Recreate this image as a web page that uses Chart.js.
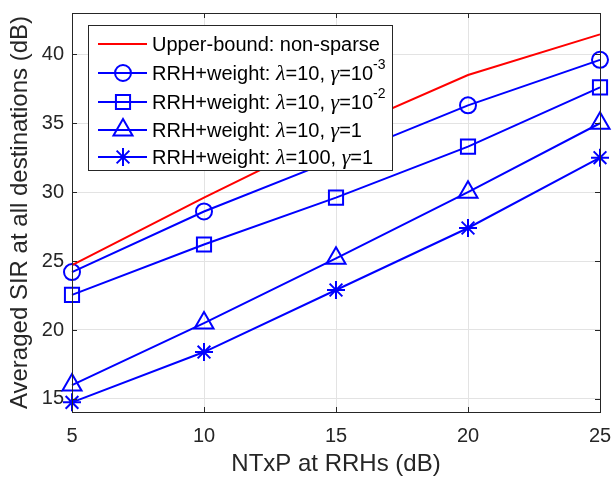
<!DOCTYPE html>
<html>
<head>
<meta charset="utf-8">
<script src="https://cdn.jsdelivr.net/npm/chart.js@4.4.1/dist/chart.umd.min.js"></script>
<style>
  html, body { margin: 0; padding: 0; background: #fff; }
  canvas { display: block; }
</style>
</head>
<body>
<canvas id="sir-chart" width="613" height="485"></canvas>
<script>
// Values
const ntxp = [5, 10, 15, 20, 25];
const upperBound = [24.7, 29.6, 34.3, 38.5, 41.45];
const lam10g1e3 = [24.2, 28.6, 32.4, 36.3, 39.6];
const lam10g1e2 = [22.55, 26.2, 29.6, 33.3, 37.6];
const lam10g1 = [16.0, 20.5, 25.2, 30.0, 35.0];
const lam100g1 = [14.75, 18.4, 22.9, 27.4, 32.5];

const xTicks = [5, 10, 15, 20, 25];
const yTicks = [15, 20, 25, 30, 35, 40];

const SANS = '"Liberation Sans", Arial, sans-serif';
const SERIF = '"Liberation Serif", "Times New Roman", serif';
const INK = '#262626';
const BLUE = '#0000ff';
const RED = '#ff0000';

function toPoints(ys) {
    return ntxp.map((x, i) => ({ x: x, y: ys[i] }));
}

function series(label, ys, color, style, radius, legendText) {
    return {
        label: label,
        data: toPoints(ys),
        borderColor: color,
        backgroundColor: 'rgba(0,0,0,0)',
        borderWidth: 2,
        pointStyle: style,
        pointRadius: style ? radius : 0,
        pointBorderWidth: 2,
        pointBorderColor: color,
        pointBackgroundColor: 'rgba(0,0,0,0)',
        tension: 0,
        clip: false,
        legendText: legendText
    };
}

// legend text pieces: plain, italic greek, superscript
const sup = (t) => ({ t: t, sup: true });
const greek = (t) => ({ t: t, greek: true });
const plain = (t) => ({ t: t });

const datasets = [
    series('Upper-bound: non-sparse', upperBound, RED, false, 0,
        [plain('Upper-bound: non-sparse')]),
    series('lam10 g1e-3', lam10g1e3, BLUE, 'circle', 8,
        [plain('RRH+weight: '), greek('\u03bb'), plain('=10, '), greek('\u03b3'), plain('=10'), sup('-3')]),
    series('lam10 g1e-2', lam10g1e2, BLUE, 'rect', 10,
        [plain('RRH+weight: '), greek('\u03bb'), plain('=10, '), greek('\u03b3'), plain('=10'), sup('-2')]),
    series('lam10 g1', lam10g1, BLUE, 'triangle', 11,
        [plain('RRH+weight: '), greek('\u03bb'), plain('=10, '), greek('\u03b3'), plain('=1')]),
    series('lam100 g1', lam100g1, BLUE, 'star', 9,
        [plain('RRH+weight: '), greek('\u03bb'), plain('=100, '), greek('\u03b3'), plain('=1')])
];

// box, inward tick marks and MATLAB style legend
const matlabFrame = {
    id: 'matlabFrame',
    afterDatasetsDraw(chart) {
        const ctx = chart.ctx;
        const a = chart.chartArea;
        const xs = chart.scales.x;
        const ys = chart.scales.y;
        ctx.save();
        ctx.strokeStyle = INK;
        ctx.lineWidth = 1;
        ctx.beginPath();
        xTicks.forEach(v => {
            const px = Math.round(xs.getPixelForValue(v)) + 0.5;
            ctx.moveTo(px, a.bottom); ctx.lineTo(px, a.bottom - 5);
            ctx.moveTo(px, a.top); ctx.lineTo(px, a.top + 5);
        });
        yTicks.forEach(v => {
            const py = Math.round(ys.getPixelForValue(v)) + 0.5;
            ctx.moveTo(a.left, py); ctx.lineTo(a.left + 5, py);
            ctx.moveTo(a.right, py); ctx.lineTo(a.right - 5, py);
        });
        ctx.stroke();
        ctx.strokeRect(Math.round(a.left) + 0.5, Math.round(a.top) + 0.5,
            Math.round(a.right - a.left), Math.round(a.bottom - a.top));

        // legend
        const box = { x: 88.5, y: 25.5, w: 304, h: 145 };
        ctx.fillStyle = '#fff';
        ctx.fillRect(box.x, box.y, box.w, box.h);
        ctx.strokeStyle = INK;
        ctx.strokeRect(box.x, box.y, box.w, box.h);

        const rows = [44, 73, 102, 130, 157];
        chart.data.datasets.forEach((ds, i) => {
            const y = rows[i];
            ctx.strokeStyle = ds.borderColor;
            ctx.lineWidth = 2;
            ctx.beginPath();
            ctx.moveTo(98, y); ctx.lineTo(147, y);
            ctx.stroke();
            if (ds.pointStyle) {
                ctx.fillStyle = 'rgba(0,0,0,0)';
                Chart.helpers.drawPoint(ctx, {
                    pointStyle: ds.pointStyle,
                    radius: ds.pointRadius,
                    rotation: 0,
                    borderWidth: 2
                }, 123, y);
            }
            let tx = 152;
            ctx.fillStyle = '#000';
            ctx.textBaseline = 'middle';
            ctx.textAlign = 'left';
            ds.legendText.forEach(p => {
                let font = '20px ' + SANS;
                let dy = 1;
                if (p.greek) font = 'italic 22px ' + SERIF;
                if (p.sup) { font = '14px ' + SANS; dy = -8; }
                ctx.font = font;
                ctx.fillText(p.t, tx, y + dy);
                tx += ctx.measureText(p.t).width;
            });
        });
        ctx.restore();
    }
};

const ctx = document.getElementById('sir-chart').getContext('2d');
new Chart(ctx, {
    type: 'line',
    data: { datasets: datasets },
    options: {
        responsive: false,
        animation: false,
        devicePixelRatio: 1,
        layout: { padding: { top: 10, right: 12, left: 0, bottom: 0 } },
        plugins: {
            legend: { display: false },
            tooltip: { enabled: false }
        },
        scales: {
            x: {
                type: 'linear',
                min: 5,
                max: 25,
                afterBuildTicks(scale) { scale.ticks = xTicks.map(v => ({ value: v })); },
                afterFit(scale) {
                    scale.height = 73;
                    scale.paddingLeft = 0;
                    scale.paddingRight = 0;
                },
                grid: { color: '#e3e3e3', drawTicks: false },
                border: { color: INK },
                ticks: { color: INK, font: { family: SANS, size: 20 }, padding: 12, maxRotation: 0 },
                title: {
                    display: true,
                    text: 'NTxP at RRHs (dB)',
                    color: INK,
                    font: { family: SANS, size: 24 },
                    padding: { top: 0, bottom: 6 }
                }
            },
            y: {
                type: 'linear',
                min: 14.05,
                max: 43,
                afterBuildTicks(scale) { scale.ticks = yTicks.map(v => ({ value: v })); },
                afterFit(scale) {
                    scale.width = 72;
                    scale.paddingTop = 0;
                    scale.paddingBottom = 0;
                },
                grid: { color: '#e3e3e3', drawTicks: false },
                border: { color: INK },
                ticks: { color: INK, font: { family: SANS, size: 20 }, padding: 8 },
                title: {
                    display: true,
                    text: 'Averaged SIR at all destinations (dB)',
                    color: INK,
                    font: { family: SANS, size: 24 },
                    padding: { top: 6, bottom: 0 }
                }
            }
        }
    },
    plugins: [matlabFrame]
});
</script>
</body>
</html>
